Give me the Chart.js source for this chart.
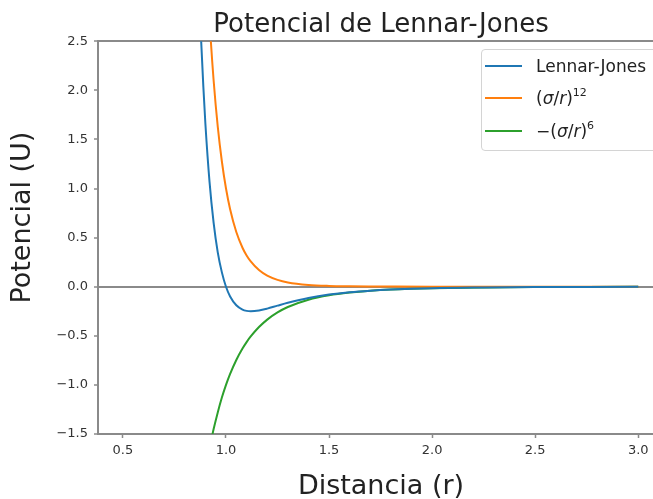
<!DOCTYPE html>
<html>
<head>
<meta charset="utf-8">
<script src="https://cdn.jsdelivr.net/npm/chart.js@4.4.0/dist/chart.umd.min.js"></script>
<style>
  html, body { margin: 0; padding: 0; background: #fff; overflow: hidden; }
  #wrap { position: relative; width: 653px; height: 499px; overflow: hidden; }
  #legend {
    position: absolute; left: 481px; top: 49px; width: 200px; height: 100px;
    border: 1px solid #d4d4d4; border-radius: 4px; background: rgba(255,255,255,0.85);
    font-family: 'DejaVu Sans', sans-serif; font-size: 17px; color: #222;
  }
  .row { position: absolute; left: 0; height: 22px; display: flex; align-items: center; white-space: nowrap; }
  .sw { width: 37px; height: 0; border-top: 2.5px solid; margin-left: 3px; margin-right: 14px; }
  .row sup { font-size: 11px; vertical-align: 8px; line-height: 0; }
</style>
</head>
<body>
<div id="wrap">
  <canvas id="chart" width="680" height="499"></canvas>
  <div id="legend"></div>
</div>
<script>
// distance r (sigma = 1)
const xs = [0.85, 0.87, 0.88, 0.89, 0.90, 0.92, 0.94, 0.96, 0.98, 1.00, 1.02, 1.05, 1.08, 1.10, 1.12, 1.16, 1.20, 1.25, 1.30, 1.40, 1.50, 1.60, 1.70, 1.80, 2.00, 2.25, 2.50, 2.75, 3.00];
const lennardJones = [4.38, 3.01, 2.48, 2.04, 1.66, 1.07, 0.65, 0.35, 0.146, 0.0, -0.099, -0.189, -0.233, -0.246, -0.250, -0.242, -0.223, -0.193, -0.164, -0.115, -0.080, -0.056, -0.040, -0.029, -0.015, -0.008, -0.004, -0.002, -0.001];
const repulsive = [7.03, 5.32, 4.64, 4.05, 3.54, 2.72, 2.10, 1.63, 1.275, 1.0, 0.789, 0.557, 0.397, 0.318, 0.257, 0.169, 0.112, 0.069, 0.043, 0.018, 0.008, 0.004, 0.002, 0.001, 0.0, 0.0, 0.0, 0.0, 0.0];
const attractive = [-2.65, -2.31, -2.15, -2.01, -1.88, -1.65, -1.45, -1.28, -1.129, -1.0, -0.888, -0.746, -0.630, -0.564, -0.507, -0.411, -0.335, -0.262, -0.207, -0.133, -0.088, -0.060, -0.041, -0.029, -0.016, -0.008, -0.004, -0.002, -0.001];

const seriesLabels = ['Lennar-Jones', '(σ/r)^12', '−(σ/r)^6'];
const legendHtml = [
  'Lennar-Jones',
  '(<i>σ</i>/<i>r</i>)<sup>12</sup>',
  '−(<i>σ</i>/<i>r</i>)<sup>6</sup>'
];
const colors = ['#1f77b4', '#ff7f0e', '#2ca02c'];
const xTicks = [0.5, 1.0, 1.5, 2.0, 2.5, 3.0];
const yTicks = [-1.5, -1.0, -0.5, 0.0, 0.5, 1.0, 1.5, 2.0, 2.5];

const FONT = "'DejaVu Sans', sans-serif";
const AXIS = '#8a8a8a';

const toPoints = ys => xs.map((x, i) => ({ x: x, y: ys[i] }));
const fmt = v => v.toFixed(1).replace('-', '−');

const datasets = [lennardJones, repulsive, attractive].map((ys, i) => ({
    label: seriesLabels[i],
    data: toPoints(ys),
    borderColor: colors[i],
    borderWidth: 2,
    pointRadius: 0,
    fill: false,
    cubicInterpolationMode: 'monotone'
}));

// y label sits a bit above the axes centre in the original
const yTitle = {
    id: 'yTitle',
    afterDraw(chart) {
        const ctx = chart.ctx;
        const area = chart.chartArea;
        ctx.save();
        ctx.translate(23, (area.top + area.bottom) / 2 - 20);
        ctx.rotate(-Math.PI / 2);
        ctx.font = "27px 'DejaVu Sans', sans-serif";
        ctx.fillStyle = '#222';
        ctx.textAlign = 'center';
        ctx.textBaseline = 'middle';
        ctx.fillText('Potencial (U)', 0, 0);
        ctx.restore();
    }
};

new Chart(document.getElementById('chart'), {
    type: 'line',
    data: { datasets: datasets },
    plugins: [yTitle],
    options: {
        responsive: false,
        animation: false,
        events: [],
        layout: { padding: { top: 0, right: 16, left: 0, bottom: 0 } },
        plugins: {
            legend: { display: false },
            tooltip: { enabled: false },
            title: {
                display: true,
                text: 'Potencial de Lennar-Jones',
                fullSize: false,
                color: '#222',
                font: { family: FONT, size: 26, weight: 'normal', lineHeight: 1.2 },
                padding: { top: 10, bottom: 0 }
            }
        },
        scales: {
            x: {
                type: 'linear',
                min: 0.379,
                max: 3.125,
                afterFit: scale => { scale.height = 65; },
                afterBuildTicks: scale => { scale.ticks = xTicks.map(v => ({ value: v })); },
                border: { display: true, color: AXIS, width: 2 },
                grid: { drawOnChartArea: false, drawTicks: true, tickLength: 4, tickColor: AXIS, tickWidth: 1.5 },
                ticks: {
                    color: '#333', padding: 5, maxRotation: 0,
                    font: { family: FONT, size: 13 },
                    callback: v => fmt(v)
                },
                title: {
                    display: true,
                    text: 'Distancia (r)',
                    color: '#222',
                    font: { family: FONT, size: 27, lineHeight: 1.2 },
                    padding: { top: 0, bottom: -4 }
                }
            },
            y: {
                type: 'linear',
                min: -1.5,
                max: 2.5,
                afterFit: scale => { scale.width = 98; },
                afterBuildTicks: scale => { scale.ticks = yTicks.map(v => ({ value: v })); },
                border: { display: true, color: AXIS, width: 2 },
                grid: {
                    drawOnChartArea: true,
                    drawTicks: true,
                    tickLength: 4,
                    tickColor: AXIS,
                    tickWidth: 1.5,
                    color: ctx => (ctx.tick && (ctx.tick.value === 0 || ctx.tick.value === 2.5)) ? AXIS : 'rgba(0,0,0,0)',
                    lineWidth: 2
                },
                ticks: {
                    color: '#333', padding: 6,
                    font: { family: FONT, size: 13 },
                    callback: v => fmt(v)
                },
                title: { display: false }
            }
        }
    }
});

// legend drawn as html inside the plot area, like matplotlib's upper right legend
const legend = document.getElementById('legend');
const rowTops = [5, 37, 70];
legendHtml.forEach((html, i) => {
    const row = document.createElement('div');
    row.className = 'row';
    row.style.top = rowTops[i] + 'px';
    row.innerHTML = `<span class="sw" style="border-color:${colors[i]}"></span><span>${html}</span>`;
    legend.appendChild(row);
});
</script>
</body>
</html>
